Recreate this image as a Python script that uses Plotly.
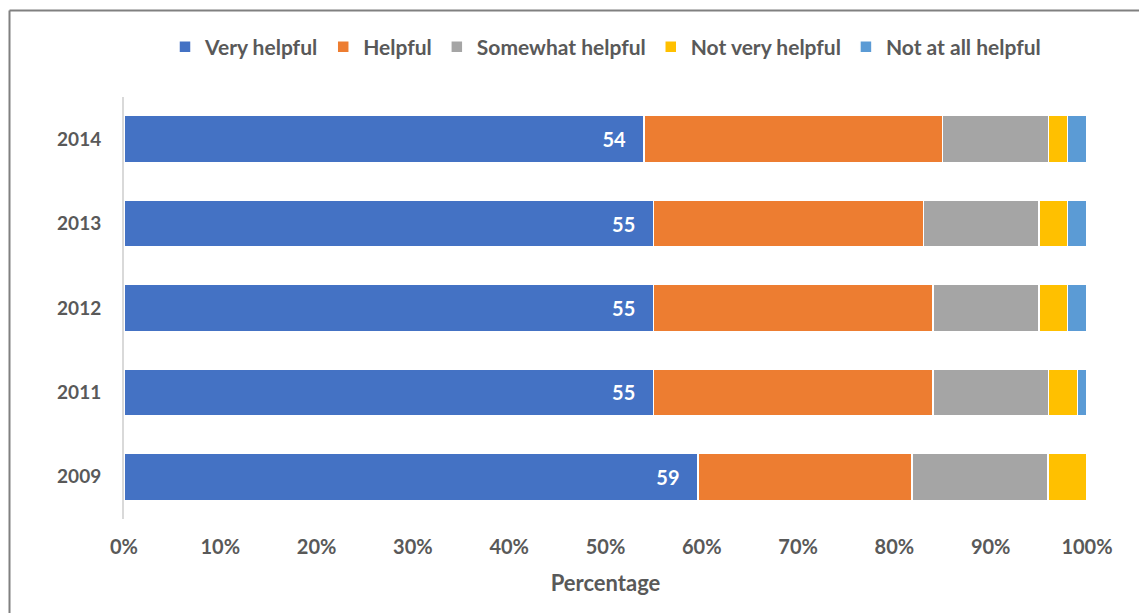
import plotly.graph_objects as go

years = ["2014", "2013", "2012", "2011", "2009"]
series_names = ["Very helpful", "Helpful", "Somewhat helpful", "Not very helpful", "Not at all helpful"]
very_helpful = [54, 55, 55, 55, 59]
helpful = [31, 28, 29, 29, 22]
somewhat_helpful = [11, 12, 11, 12, 14]
not_very_helpful = [2, 3, 3, 3, 4]
not_at_all_helpful = [2, 2, 2, 1, 0]
colors = ["#4472C4", "#ED7D31", "#A5A5A5", "#FFC000", "#5B9BD5"]
x_ticks = [0, 10, 20, 30, 40, 50, 60, 70, 80, 90, 100]

values = [very_helpful, helpful, somewhat_helpful, not_very_helpful, not_at_all_helpful]
FONT = "Lato"
GREY = "#595959"

# the page body adds an 8px offset; plot area on screen: x 124..1087, y 97..519
FIG_W, FIG_H = 1139, 606
PX_L, PX_R, PX_T, PX_B = 124, 1087, 97, 519
W, H = PX_R - PX_L, PX_B - PX_T

fig = go.Figure()
for i, (name, vals, col) in enumerate(zip(series_names, values, colors)):
    fig.add_trace(go.Bar(
        y=years, x=vals, name=name, orientation="h",
        marker=dict(color=col, line=dict(color="white", width=1.5)),
        text=[str(v) for v in vals] if i == 0 else None,
        textposition="inside" if i == 0 else None,
        insidetextanchor="end",
        textfont=dict(color="white", size=20, family=FONT),
        texttemplate="<b>%{text}</b>\u00a0\u00a0\u00a0" if i == 0 else None,
        hoverinfo="x+y+name",
    ))

fig.update_layout(
    barmode="stack", barnorm="percent", bargap=0.44,
    width=FIG_W, height=FIG_H,
    margin=dict(l=PX_L - 8, r=FIG_W - (PX_R - 8), t=PX_T - 8, b=FIG_H - (PX_B - 8), autoexpand=False),
    paper_bgcolor="white", plot_bgcolor="white",
    font=dict(family=FONT, color=GREY),
    legend=dict(orientation="h", x=0.5, xanchor="center", y=(PX_B - 47) / H, yanchor="middle",
                font=dict(size=21, family=FONT, color=GREY, weight="bold"),
                traceorder="normal", itemwidth=30),
    showlegend=True,
)
fig.update_xaxes(
    range=[0, 100], tickvals=x_ticks, ticktext=[f"<b>{t}%</b>" for t in x_ticks],
    tickfont=dict(size=20, color=GREY), showgrid=False, zeroline=False,
    showline=False, ticks="", ticklen=0, automargin=False, ticklabelstandoff=14,
    title=dict(text="<b>Percentage</b>", font=dict(size=22, color=GREY), standoff=18),
)
fig.update_yaxes(
    categoryorder="array", categoryarray=years[::-1], automargin=False,
    tickfont=dict(size=19, color=GREY, weight="bold"),
    showgrid=False, zeroline=False, showline=True, linecolor="#D9D9D9", linewidth=2,
    ticks="", ticklabelstandoff=17,
)
# outer frame (top and left edges)
fy = (PX_B - 10.5) / H
fx = (9.5 - PX_L) / W
fx_end = (1146 - PX_L) / W
fy_end = (PX_B - 613) / H
fig.add_shape(type="line", xref="paper", yref="paper",
              x0=fx, x1=fx_end, y0=fy, y1=fy, line=dict(color="#808080", width=2))
fig.add_shape(type="line", xref="paper", yref="paper",
              x0=fx, x1=fx, y0=fy, y1=fy_end, line=dict(color="#808080", width=2))

fig.write_html("out.html")
